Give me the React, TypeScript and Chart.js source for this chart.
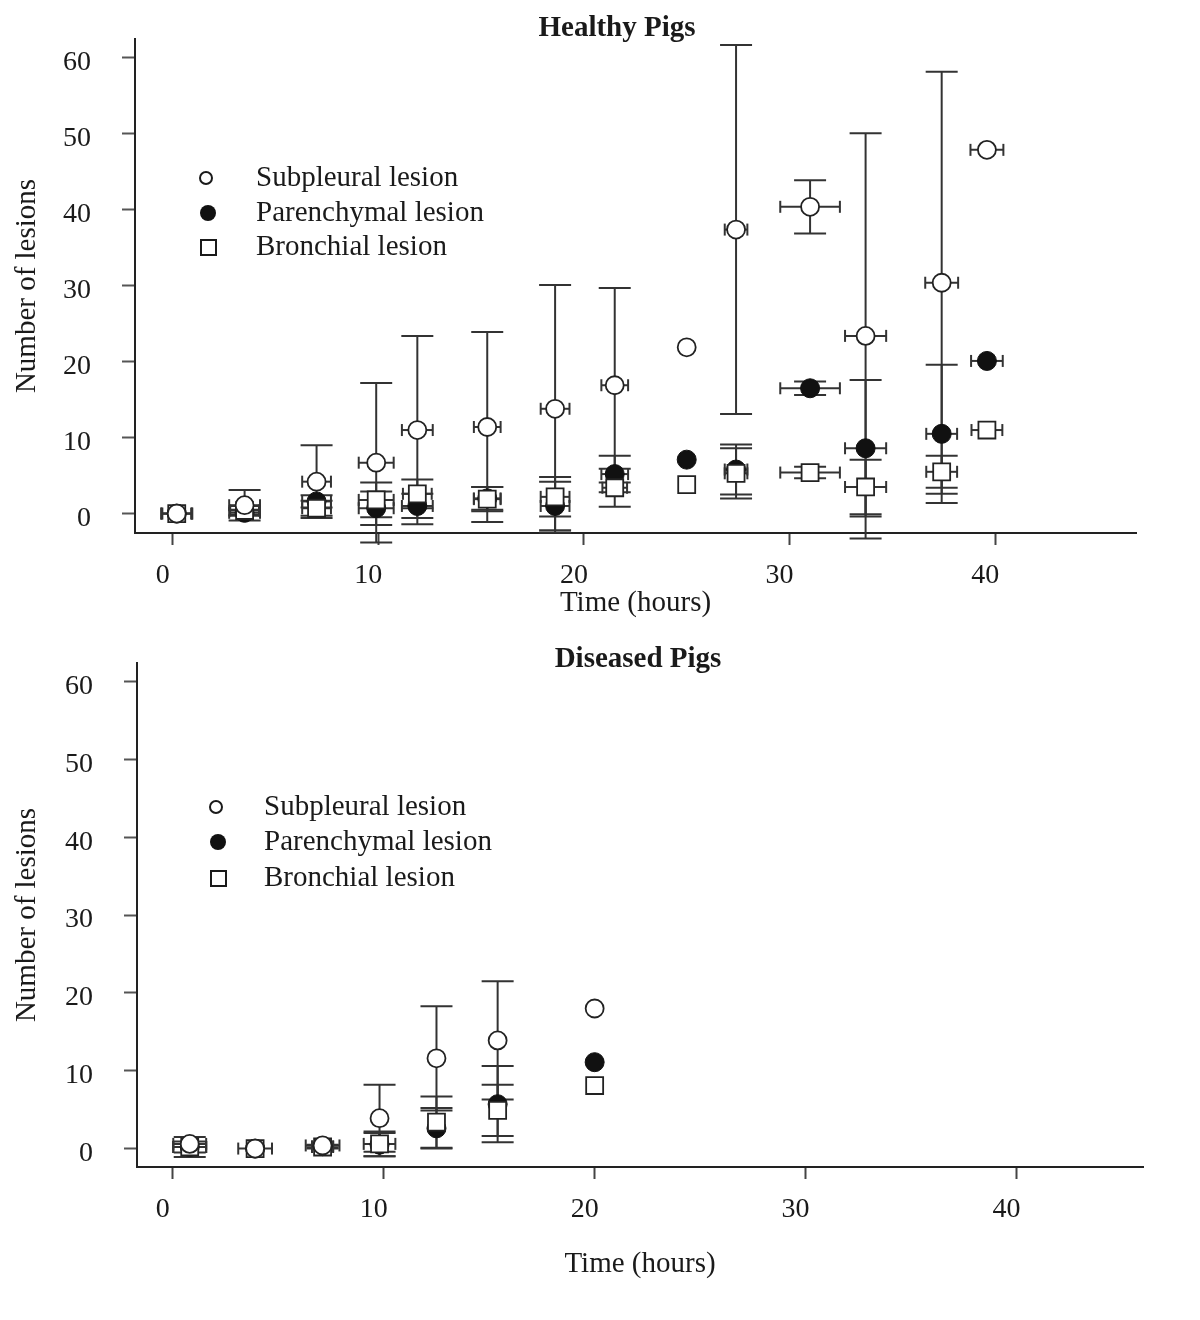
import React, { useEffect, useRef } from 'react';
import { Chart, registerables } from 'chart.js';

Chart.register(...registerables);

// ---------- shared labels / ticks ----------
const SERIES_NAMES = ['Subpleural lesion', 'Parenchymal lesion', 'Bronchial lesion'];
const X_TICKS = [0, 10, 20, 30, 40];
const Y_TICKS = [0, 10, 20, 30, 40, 50, 60];
const X_TITLE = 'Time (hours)';
const Y_TITLE = 'Number of lesions';

// ---------- Healthy pigs ----------
const healthyTime = [0.2, 3.5, 7.0, 9.9, 11.9, 15.3, 18.6, 21.5, 25.0, 27.4, 31.0, 33.7, 37.4, 39.6];
const healthySubpleural = [0, 1.1, 4.2, 6.7, 11.0, 11.4, 13.8, 16.9, 21.9, 37.4, 40.4, 23.4, 30.4, 47.9];
const healthySubpleuralSD = [0, 2.0, 4.8, 10.5, 12.4, 12.5, 16.3, 12.8, 0, 24.3, 3.5, 26.7, 27.8, 0];
const healthySubpleuralTimeSD = [0.75, 0.75, 0.7, 0.85, 0.75, 0.65, 0.7, 0.65, 0, 0.55, 1.45, 1.0, 0.8, 0.8];
const healthyParenchymal = [0, 0.1, 1.6, 0.7, 1.0, 2.0, 1.0, 5.2, 7.1, 5.8, 16.5, 8.6, 10.5, 20.1];
const healthyParenchymalSD = [0, 0.4, 0.8, 2.2, 1.6, 1.5, 3.2, 2.4, 0, 3.3, 0.9, 9.0, 9.1, 0];
const healthyParenchymalTimeSD = [0.75, 0.75, 0.7, 0.85, 0.75, 0.65, 0.7, 0.65, 0, 0.55, 1.45, 1.0, 0.75, 0.77];
const healthyBronchial = [0, 0.4, 0.7, 1.8, 2.6, 1.9, 2.2, 3.4, 3.8, 5.3, 5.4, 3.5, 5.5, 11.0];
const healthyBronchialSD = [0, 0.6, 1.0, 2.3, 1.9, 1.6, 2.6, 2.5, 0, 3.3, 0.75, 3.6, 2.1, 0];
const healthyBronchialTimeSD = [0.7, 0.7, 0.7, 0.85, 0.7, 0.65, 0.7, 0.6, 0, 0.55, 1.45, 1.0, 0.75, 0.75];

// ---------- Diseased pigs ----------
const diseasedTime = [0.8, 3.9, 7.1, 9.8, 12.5, 15.4, 20.0];
const diseasedSubpleural = [0.6, 0.0, 0.4, 3.9, 11.6, 13.9, 18.0];
const diseasedSubpleuralSD = [0, 0, 0, 4.3, 6.7, 7.6, 0];
const diseasedSubpleuralTimeSD = [0.78, 0.8, 0.8, 0, 0, 0, 0];
const diseasedParenchymal = [0.2, 0, 0.3, 0.5, 2.6, 5.7, 11.1];
const diseasedParenchymalSD = [0.7, 0, 0.2, 1.5, 2.6, 4.9, 0];
const diseasedParenchymalTimeSD = [0.78, 0, 0.5, 0, 0, 0, 0];
const diseasedBronchial = [0.2, 0, 0.2, 0.6, 3.4, 4.9, 8.1];
const diseasedBronchialSD = [1.3, 0, 0.2, 1.6, 3.3, 3.3, 0];
const diseasedBronchialTimeSD = [0.78, 0, 0.5, 0.75, 0, 0, 0];

const FONT = "'Liberation Serif', 'Times New Roman', Times, serif";
const INK = '#1a1a1a';

type PanelCfg = {
  title: string;
  top: number;
  height: number;
  padTop: number;
  padRight: number;
  yWidth: number;
  xHeight: number;
  xMin: number;
  xMax: number;
  yMin: number;
  yMax: number;
  xTickPad: number;
  xTitlePad: number;
  titleX: number;
  titleY: number;
  legendSymX: number;
  legendTextX: number;
  legendRows: number[];
  time: number[];
  sub: number[]; subSD: number[]; subTSD: number[];
  par: number[]; parSD: number[]; parTSD: number[];
  bro: number[]; broSD: number[]; broTSD: number[];
};

const errorBarPlugin = {
  id: 'errorBars',
  beforeDatasetsDraw(chart: any) {
    const { ctx } = chart;
    const xs = chart.scales.x;
    const ys = chart.scales.y;
    ctx.save();
    ctx.strokeStyle = '#333';
    ctx.lineWidth = 2;
    const seg = (a: number, b: number, c: number, d: number) => {
      ctx.beginPath();
      ctx.moveTo(a, b);
      ctx.lineTo(c, d);
      ctx.stroke();
    };
    chart.data.datasets.forEach((ds: any) => {
      ds.data.forEach((p: any, i: number) => {
        const px = xs.getPixelForValue(p.x);
        const py = ys.getPixelForValue(p.y);
        const sd = ds.ySD[i];
        const tsd = ds.xSD[i];
        if (sd > 0) {
          const t = ys.getPixelForValue(p.y + sd);
          const b = ys.getPixelForValue(p.y - sd);
          seg(px, t, px, b);
          seg(px - 16, t, px + 16, t);
          seg(px - 16, b, px + 16, b);
        }
        if (tsd > 0) {
          const l = xs.getPixelForValue(p.x - tsd);
          const r = xs.getPixelForValue(p.x + tsd);
          seg(l, py, r, py);
          seg(l, py - 6, l, py + 6);
          seg(r, py - 6, r, py + 6);
        }
      });
    });
    ctx.restore();
  },
};

function makeDecoPlugin(cfg: PanelCfg) {
  return {
    id: 'deco',
    afterDraw(chart: any) {
      const { ctx } = chart;
      ctx.save();
      ctx.fillStyle = INK;
      ctx.textBaseline = 'middle';
      ctx.textAlign = 'center';
      ctx.font = `bold 29px ${FONT}`;
      ctx.fillText(cfg.title, cfg.titleX, cfg.titleY);
      ctx.textAlign = 'left';
      ctx.font = `29px ${FONT}`;
      cfg.legendRows.forEach((ry, i) => {
        ctx.fillText(SERIES_NAMES[i], cfg.legendTextX, ry);
        const sx = cfg.legendSymX;
        ctx.lineWidth = 2;
        ctx.strokeStyle = INK;
        if (i === 0) {
          ctx.beginPath();
          ctx.arc(sx, ry, 6, 0, Math.PI * 2);
          ctx.fillStyle = '#fff';
          ctx.fill();
          ctx.stroke();
        } else if (i === 1) {
          ctx.beginPath();
          ctx.arc(sx + 2, ry, 8, 0, Math.PI * 2);
          ctx.fillStyle = '#111';
          ctx.fill();
        } else {
          ctx.strokeRect(sx - 5, ry - 7, 15, 15);
        }
        ctx.fillStyle = INK;
      });
      ctx.restore();
    },
  };
}

const zeroPadding = (s: any) => {
  s.paddingTop = 0;
  s.paddingBottom = 0;
  s.paddingLeft = 0;
  s.paddingRight = 0;
};

function Panel({ cfg }: { cfg: PanelCfg }) {
  const ref = useRef<HTMLCanvasElement>(null);
  useEffect(() => {
    if (!ref.current) return;
    const pts = (ys: number[]) => cfg.time.map((t, i) => ({ x: t, y: ys[i] }));
    const chart = new Chart(ref.current, {
      type: 'scatter',
      data: {
        datasets: [
          {
            label: SERIES_NAMES[0],
            data: pts(cfg.sub),
            ySD: cfg.subSD,
            xSD: cfg.subTSD,
            order: 0,
            pointStyle: 'circle',
            pointRadius: 9,
            pointBackgroundColor: '#ffffff',
            pointBorderColor: '#222',
            pointBorderWidth: 1.8,
          } as any,
          {
            label: SERIES_NAMES[2],
            data: pts(cfg.bro),
            ySD: cfg.broSD,
            xSD: cfg.broTSD,
            order: 1,
            pointStyle: 'rect',
            pointRadius: 12,
            pointBackgroundColor: '#ffffff',
            pointBorderColor: '#222',
            pointBorderWidth: 1.8,
          } as any,
          {
            label: SERIES_NAMES[1],
            data: pts(cfg.par),
            ySD: cfg.parSD,
            xSD: cfg.parTSD,
            order: 2,
            pointStyle: 'circle',
            pointRadius: 9.5,
            pointBackgroundColor: '#111',
            pointBorderColor: '#111',
            pointBorderWidth: 1,
          } as any,
        ],
      },
      options: {
        animation: false,
        responsive: false,
        devicePixelRatio: 1,
        clip: false as any,
        layout: { padding: { top: cfg.padTop, right: cfg.padRight, left: 0, bottom: 0 } },
        plugins: {
          legend: { display: false },
          tooltip: { enabled: false },
          title: { display: false },
        },
        scales: {
          x: {
            type: 'linear',
            min: cfg.xMin,
            max: cfg.xMax,
            afterBuildTicks: (s: any) => {
              s.ticks = X_TICKS.map((v) => ({ value: v }));
            },
            afterFit: (s: any) => {
              s.height = cfg.xHeight;
              zeroPadding(s);
            },
            grid: {
              drawOnChartArea: false,
              drawTicks: true,
              tickLength: 12,
              tickColor: '#444',
              tickWidth: 2,
              color: '#444',
            },
            border: { display: true, color: '#222', width: 2 },
            ticks: {
              color: INK,
              font: { family: FONT, size: 28 },
              padding: cfg.xTickPad,
              labelOffset: -10,
              maxRotation: 0,
            },
            title: {
              display: true,
              text: X_TITLE,
              color: INK,
              font: { family: FONT, size: 29 },
              padding: { top: 0, bottom: cfg.xTitlePad },
            },
          },
          y: {
            type: 'linear',
            min: cfg.yMin,
            max: cfg.yMax,
            afterBuildTicks: (s: any) => {
              s.ticks = Y_TICKS.map((v) => ({ value: v }));
            },
            afterFit: (s: any) => {
              s.width = cfg.yWidth;
              zeroPadding(s);
            },
            grid: {
              drawOnChartArea: false,
              drawTicks: true,
              tickLength: 13,
              tickColor: '#555',
              tickWidth: 2,
              color: '#555',
            },
            border: { display: true, color: '#222', width: 2 },
            ticks: {
              color: INK,
              font: { family: FONT, size: 28 },
              padding: 31,
              labelOffset: 5,
            },
            title: {
              display: true,
              text: Y_TITLE,
              color: INK,
              font: { family: FONT, size: 29 },
              padding: { top: 10, bottom: 0 },
            },
          },
        },
      },
      plugins: [errorBarPlugin, makeDecoPlugin(cfg)],
    } as any);
    return () => chart.destroy();
  }, [cfg]);
  return (
    <canvas
      ref={ref}
      width={1200}
      height={cfg.height}
      style={{ position: 'absolute', left: 0, top: cfg.top, width: 1200, height: cfg.height }}
    />
  );
}

const HEALTHY: PanelCfg = {
  title: 'Healthy Pigs',
  top: 0,
  height: 640,
  padTop: 39,
  padRight: 64,
  yWidth: 135,
  xHeight: 107,
  xMin: -1.83,
  xMax: 46.85,
  yMin: -2.56,
  yMax: 62.5,
  xTickPad: 14,
  xTitlePad: 19,
  titleX: 617,
  titleY: 29,
  legendSymX: 206,
  legendTextX: 256,
  legendRows: [178, 213, 247],
  time: healthyTime,
  sub: healthySubpleural, subSD: healthySubpleuralSD, subTSD: healthySubpleuralTimeSD,
  par: healthyParenchymal, parSD: healthyParenchymalSD, parTSD: healthyParenchymalTimeSD,
  bro: healthyBronchial, broSD: healthyBronchialSD, broTSD: healthyBronchialTimeSD,
};

const DISEASED: PanelCfg = {
  title: 'Diseased Pigs',
  top: 640,
  height: 680,
  padTop: 23,
  padRight: 57,
  yWidth: 137,
  xHeight: 153,
  xMin: -1.7,
  xMax: 46.0,
  yMin: -2.37,
  yMax: 62.4,
  xTickPad: 14,
  xTitlePad: 38,
  titleX: 638,
  titleY: 20,
  legendSymX: 216,
  legendTextX: 264,
  legendRows: [167, 202, 238],
  time: diseasedTime,
  sub: diseasedSubpleural, subSD: diseasedSubpleuralSD, subTSD: diseasedSubpleuralTimeSD,
  par: diseasedParenchymal, parSD: diseasedParenchymalSD, parTSD: diseasedParenchymalTimeSD,
  bro: diseasedBronchial, broSD: diseasedBronchialSD, broTSD: diseasedBronchialTimeSD,
};

export default function App() {
  return (
    <div style={{ position: 'absolute', left: 0, top: 0, width: 1200, height: 1320, background: '#fff' }}>
      <Panel cfg={HEALTHY} />
      <Panel cfg={DISEASED} />
    </div>
  );
}
